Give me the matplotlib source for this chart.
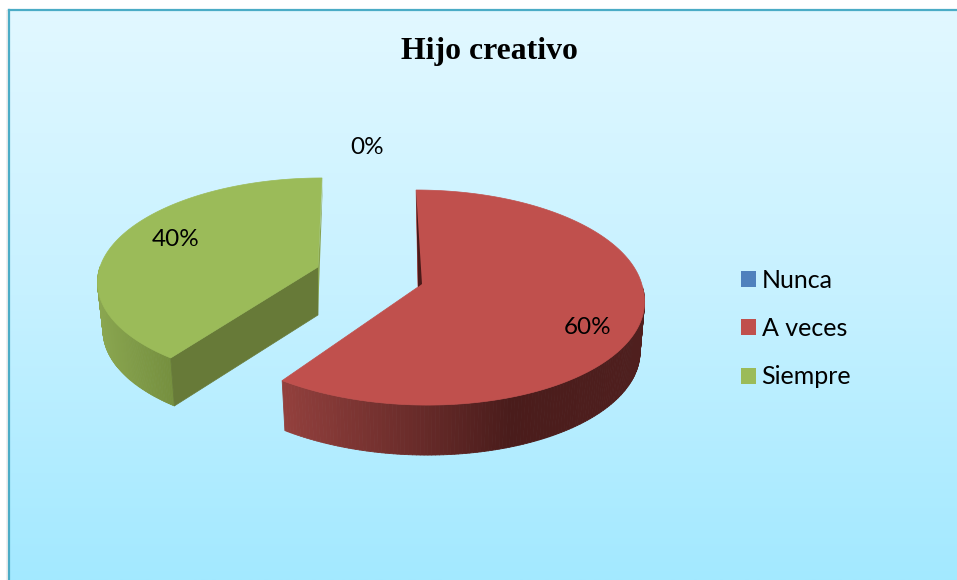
#!/usr/bin/env python3
import matplotlib
matplotlib.use('Agg')
import matplotlib.pyplot as plt
import numpy as np
from matplotlib.collections import PolyCollection
from matplotlib.colors import LinearSegmentedColormap, to_rgb
from matplotlib.patches import Patch, Polygon, Rectangle

W = 957
H = 580

TITLE = "Hijo creativo"
CATEGORIES = ["Nunca", "A veces", "Siempre"]
VALUES = [0, 60, 40]
COLORS = ["#4f81bd", "#c0504d", "#9bbb59"]
LABEL_POS = [(367.5, 147), (588, 328), (176, 239)]

# projection of each slice on the page, in pixels
GEOM = {
    "A veces": dict(ax=418, ay=287, rx=224.5, ry=106.5, k=0.098, shear_up=0.02, shear_low=0.08,
                    depth=50, s=0.98, dx=0),
    "Siempre": dict(ax=318, ay=267, rx=218, ry=100.6, k=0.13, shear_up=-0.045, shear_low=-0.045,
                    depth=48, s=0.975, dx=0),
}
WALL_STOPS = {
    "A veces": ([282, 400, 510, 645], ["#93403d", "#6e2e2c", "#4a1c1b", "#4f1f1e"]),
    "Siempre": ([97, 168], ["#8aa650", "#76903f"]),
}
CUT_COLOR = {"A veces": "#4a1a19", "Siempre": "#677a38"}


def rim(theta, g):
    # theta in radians, clockwise from the top
    sin = np.sin(theta)
    cos = np.cos(theta)
    w = 1 + g["k"] * cos
    y = -g["ry"] * cos / w
    x = g["rx"] * sin / w + np.where(y > 0, g["shear_low"], g["shear_up"]) * y
    return g["ax"] + x, g["ay"] + y


def lower(x, y, g):
    return g["ax"] + (x - g["ax"]) * g["s"] + g["dx"], y + g["depth"]


def wall_color(x, name):
    xs, cols = WALL_STOPS[name]
    rgb = np.array([to_rgb(c) for c in cols])
    return [np.interp(x, xs, rgb[:, i]) for i in range(3)]


def draw_slice(ax, name, value, start, color):
    g = GEOM[name]
    end = start + value / 100 * 2 * np.pi
    t = np.linspace(start, end, 240)
    x, y = rim(t, g)
    xb, yb = lower(x, y, g)

    quads = []
    cols = []
    for i in range(len(t) - 1):
        if np.cos(t[i]) > 0:
            continue  # back of the rim, not seen
        quads.append([(x[i], y[i]), (x[i + 1], y[i + 1]), (xb[i + 1], yb[i + 1]), (xb[i], yb[i])])
        cols.append(wall_color((x[i] + x[i + 1]) / 2, name))
    ax.add_collection(PolyCollection(quads, facecolors=cols, edgecolors=cols, linewidths=0.6, zorder=2))

    apex = (g["ax"], g["ay"])
    apex_low = (g["ax"], g["ay"] + g["depth"])
    if name == "Siempre":
        # the cut face towards the viewer, and the thin one on the right
        ax.add_patch(Polygon([apex, (x[0], y[0]), (xb[0], yb[0]), apex_low], fc=CUT_COLOR[name], ec=CUT_COLOR[name], lw=0.5, zorder=3))
        ax.add_patch(Polygon([(x[-1] + 1, y[-1]), apex_low, apex], fc="#87a24e", ec="none", zorder=3))

    pts = [apex] + list(zip(x, y))
    ax.add_patch(Polygon(pts, fc=color, ec=color, lw=0.5, zorder=4))

    if name == "A veces":
        # dark inner face seen along the first cut
        sliver = [(x[0], y[0]), apex, (apex[0] + 4, apex[1] - 3), (apex[0] + 1, apex[1] - 50)]
        ax.add_patch(Polygon(sliver, fc=CUT_COLOR[name], ec="none", zorder=5))
    return end


fig = plt.figure(figsize=(W / 100, H / 100), dpi=100)
ax = fig.add_axes([0, 0, 1, 1])
ax.set_xlim(0, W)
ax.set_ylim(H, 0)
ax.axis('off')

# panel: white margin, teal edge on top and left, vertical gradient
cmap = LinearSegmentedColormap.from_list("bg", ["#e2f8ff", "#c6f1ff", "#a3e9ff"])
ax.imshow(np.linspace(0, 1, 256).reshape(-1, 1), cmap=cmap, aspect='auto', extent=(9, W, H, 10), zorder=0)
ax.set_xlim(0, W)
ax.set_ylim(H, 0)
ax.plot([9, 9], [H, 10], color="#4bacc6", lw=1.6, zorder=1)
ax.plot([9, W], [10, 10], color="#4bacc6", lw=1.6, zorder=1)
ax.add_patch(Rectangle((6, 10), 2, H, fc="#f0f0f0", ec="none", zorder=0))

angle = 0.0
for name, value, color in zip(CATEGORIES, VALUES, COLORS):
    if value > 0:
        angle = draw_slice(ax, name, value, angle, color)

for value, (x, y) in zip(VALUES, LABEL_POS):
    ax.text(x, y, "%d%%" % value, family="Lato", fontsize=17.5, color="black", ha='center', va='center', zorder=6)

ax.text(489, 51, TITLE, family="Liberation Serif", weight='bold', fontsize=22.9, color="black", ha='center', va='center', zorder=6)

handles = [Patch(facecolor=c, edgecolor='none') for c in COLORS]
ax.legend(handles, CATEGORIES, loc='upper left', bbox_to_anchor=(718, 246), bbox_transform=ax.transData,
          frameon=False, prop={'family': 'Lato', 'size': 18}, handlelength=0.6, handleheight=0.6,
          handletextpad=0.24, labelspacing=1.02, labelcolor="black")

fig.savefig('out.png', dpi=100)
